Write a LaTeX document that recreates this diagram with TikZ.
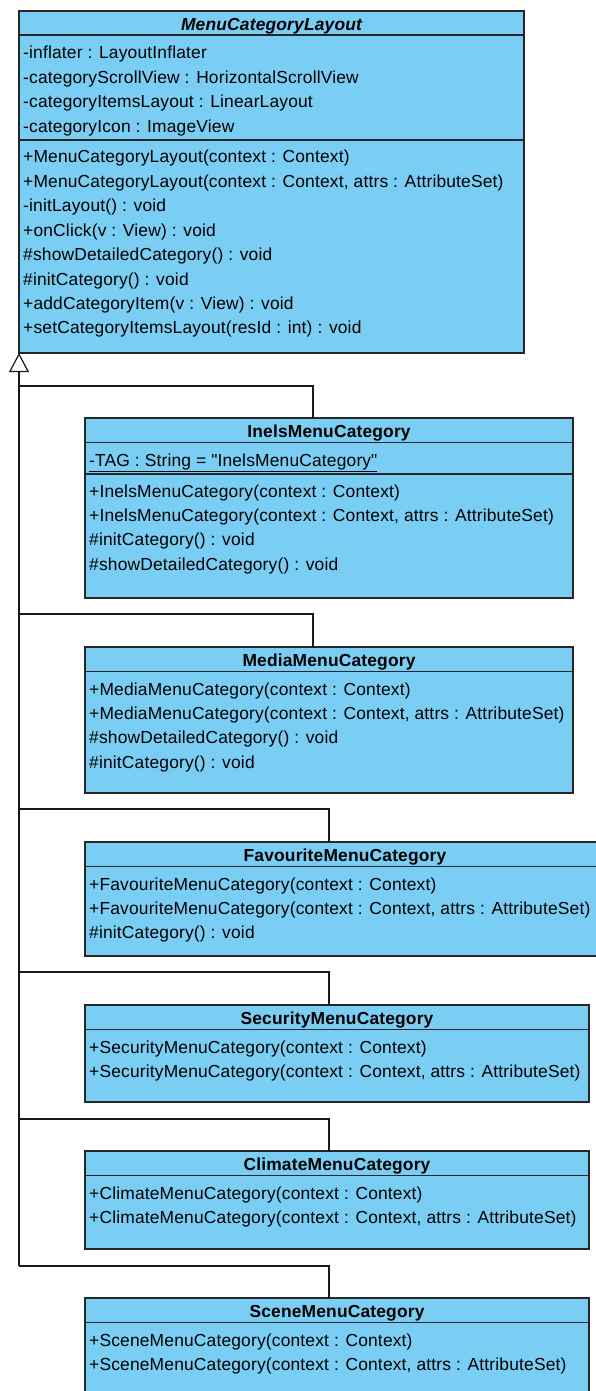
\documentclass[tikz,border=0pt]{standalone}
\usepackage{fontspec}
\setmainfont{Liberation Sans}[LetterSpace=1.0]
\usetikzlibrary{arrows.meta,positioning,calc}
\definecolor{classblue}{RGB}{122,206,244}
\newcommand{\umlfont}{\fontsize{17.4}{20}\selectfont}
\tikzset{
  classbox/.style={draw=black!85,fill=classblue,line width=1.3pt,
    anchor=north west,inner sep=0pt,outer sep=0pt},
  classname/.style={font=\umlfont\bfseries,anchor=base,inner sep=0pt},
  member/.style={font=\umlfont,anchor=base west,inner sep=0pt},
  divider/.style={draw=black!85,line width=1.4pt},
  link/.style={draw=black!90,line width=1.2pt},
  gen/.style={link,-{Triangle[open,length=19pt,width=20pt,line width=1.2pt]}}
}

\begin{document}
\begin{tikzpicture}[x=1pt,y=-1pt]
  \useasboundingbox (0,0) rectangle (596,1391);
  \clip (0,0) rectangle (596,1391);

  % abstract base class
  \node[classbox,minimum width=505pt,minimum height=342pt] (layout) at (19,11) {};
  \node[classname,font=\umlfont\bfseries\itshape] (layoutname)
    at ([yshift=-19.5pt]layout.north) {MenuCategoryLayout};
  \draw[divider] ([yshift=-24pt]layout.north west) -- ([yshift=-24pt]layout.north east);
  \draw[divider] ([yshift=-129pt]layout.north west) -- ([yshift=-129pt]layout.north east);
  \foreach \txt [count=\i from 0] in {-inflater : LayoutInflater,
      -categoryScrollView : HorizontalScrollView,
      -categoryItemsLayout : LinearLayout, -categoryIcon : ImageView}
    \node[member] (layoutattr\i) at ([xshift=4pt,yshift={-48-24.4*\i}]layout.north west) {\txt};
  \foreach \txt [count=\i from 0] in {{+MenuCategoryLayout(context : Context)},
      {+MenuCategoryLayout(context : Context, attrs : AttributeSet)},
      -initLayout() : void, +onClick(v : View) : void,
      \#showDetailedCategory() : void, \#initCategory() : void,
      +addCategoryItem(v : View) : void,
      +setCategoryItemsLayout(resId : int) : void}
    \node[member] (layoutop\i) at ([xshift=4pt,yshift={-152-24.4*\i}]layout.north west) {\txt};

  % InelsMenuCategory
  \node[classbox,minimum width=488pt,minimum height=180pt] (inels) at (85,418) {};
  \node[classname] (inelsname) at ([yshift=-19.5pt]inels.north) {InelsMenuCategory};
  \draw[divider] ([yshift=-24.5pt]inels.north west) -- ([yshift=-24.5pt]inels.north east);
  \draw[divider] ([yshift=-56pt]inels.north west) -- ([yshift=-56pt]inels.north east);
  \node[member] (inelsattr) at ([xshift=4pt,yshift=-48pt]inels.north west)
    {\underline{-TAG : String = \textquotedbl InelsMenuCategory\textquotedbl}};
  \foreach \txt [count=\i from 0] in {{+InelsMenuCategory(context : Context)},
      {+InelsMenuCategory(context : Context, attrs : AttributeSet)},
      \#initCategory() : void, \#showDetailedCategory() : void}
    \node[member] (inelsop\i) at ([xshift=4pt,yshift={-79-24.4*\i}]inels.north west) {\txt};

  % MediaMenuCategory
  \node[classbox,minimum width=488pt,minimum height=146pt] (media) at (85,647) {};
  \node[classname] (medianame) at ([yshift=-19.5pt]media.north) {MediaMenuCategory};
  \draw[divider] ([yshift=-24.5pt]media.north west) -- ([yshift=-24.5pt]media.north east);
  \foreach \txt [count=\i from 0] in {{+MediaMenuCategory(context : Context)},
      {+MediaMenuCategory(context : Context, attrs : AttributeSet)},
      \#showDetailedCategory() : void, \#initCategory() : void}
    \node[member] (mediaop\i) at ([xshift=4pt,yshift={-48-24.4*\i}]media.north west) {\txt};

  % FavouriteMenuCategory
  \node[classbox,minimum width=520pt,minimum height=114pt] (fav) at (85,842) {};
  \node[classname] (favname) at ([yshift=-19.5pt]fav.north) {FavouriteMenuCategory};
  \draw[divider] ([yshift=-24.5pt]fav.north west) -- ([yshift=-24.5pt]fav.north east);
  \foreach \txt [count=\i from 0] in {{+FavouriteMenuCategory(context : Context)},
      {+FavouriteMenuCategory(context : Context, attrs : AttributeSet)},
      \#initCategory() : void}
    \node[member] (favop\i) at ([xshift=4pt,yshift={-48-24.4*\i}]fav.north west) {\txt};

  % SecurityMenuCategory
  \node[classbox,minimum width=504pt,minimum height=97pt] (security) at (85,1005) {};
  \node[classname] (securityname) at ([yshift=-19.5pt]security.north) {SecurityMenuCategory};
  \draw[divider] ([yshift=-24.5pt]security.north west) -- ([yshift=-24.5pt]security.north east);
  \foreach \txt [count=\i from 0] in {{+SecurityMenuCategory(context : Context)},
      {+SecurityMenuCategory(context : Context, attrs : AttributeSet)}}
    \node[member] (securityop\i) at ([xshift=4pt,yshift={-48-24.4*\i}]security.north west) {\txt};

  % ClimateMenuCategory
  \node[classbox,minimum width=504pt,minimum height=98pt] (climate) at (85,1151) {};
  \node[classname] (climatename) at ([yshift=-19.5pt]climate.north) {ClimateMenuCategory};
  \draw[divider] ([yshift=-24.5pt]climate.north west) -- ([yshift=-24.5pt]climate.north east);
  \foreach \txt [count=\i from 0] in {{+ClimateMenuCategory(context : Context)},
      {+ClimateMenuCategory(context : Context, attrs : AttributeSet)}}
    \node[member] (climateop\i) at ([xshift=4pt,yshift={-48-24.4*\i}]climate.north west) {\txt};

  % SceneMenuCategory (runs off the bottom)
  \node[classbox,minimum width=504pt,minimum height=120pt] (scene) at (85,1298) {};
  \node[classname] (scenename) at ([yshift=-19.5pt]scene.north) {SceneMenuCategory};
  \draw[divider] ([yshift=-24.5pt]scene.north west) -- ([yshift=-24.5pt]scene.north east);
  \foreach \txt [count=\i from 0] in {{+SceneMenuCategory(context : Context)},
      {+SceneMenuCategory(context : Context, attrs : AttributeSet)}}
    \node[member] (sceneop\i) at ([xshift=4pt,yshift={-48-24.4*\i}]scene.north west) {\txt};

  % generalization tree
  \coordinate (b1) at (19,386);
  \coordinate (b2) at (19,614);
  \coordinate (b3) at (19,809);
  \coordinate (b4) at (19,972);
  \coordinate (b5) at (19,1119);
  \coordinate (b6) at (19,1266);
  \draw[link] (b1) -| ([xshift=228pt]inels.north west);
  \draw[link] (b2) -| ([xshift=228pt]media.north west);
  \draw[link] (b3) -| ([xshift=244pt]fav.north west);
  \draw[link] (b4) -| ([xshift=244pt]security.north west);
  \draw[link] (b5) -| ([xshift=244pt]climate.north west);
  \draw[link] (b6) -| ([xshift=244pt]scene.north west);
  \draw[gen] (b6) -- (layout.south west);
\end{tikzpicture}
\end{document}
